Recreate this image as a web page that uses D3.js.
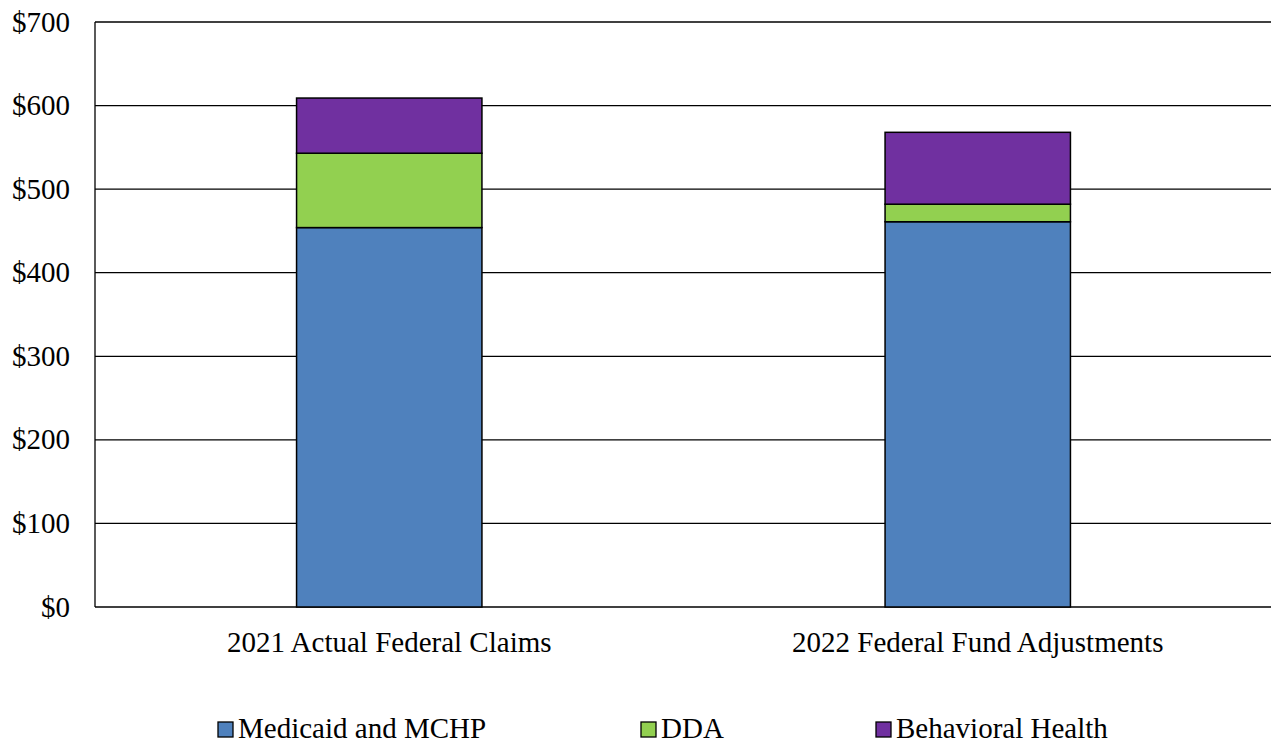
<!DOCTYPE html>
<html lang="en">
<head>
<meta charset="utf-8">
<title>Federal Claims</title>
<script src="https://d3js.org/d3.v7.min.js"></script>
<style>
  body { margin: 0; background: #fff; }
</style>
</head>
<body>
<svg width="1271" height="743"></svg>
<script>
// data (millions)
const categories = ["2021 Actual Federal Claims", "2022 Federal Fund Adjustments"];
const seriesNames = ["Medicaid and MCHP", "DDA", "Behavioral Health"];
const medicaid = [454, 461];
const dda = [89, 21];
const behavioral = [66, 86];
const yTicks = [0, 100, 200, 300, 400, 500, 600, 700];

const colors = ["#4F81BD", "#92D050", "#7030A0"];
const font = "'Liberation Serif', 'Times New Roman', serif";

const svg = d3.select("svg");
const plotLeft = 95, plotRight = 1272, plotTop = 22, plotBottom = 607;

const x = d3.scaleBand().domain(categories).range([plotLeft, plotRight]);
const y = d3.scaleLinear().domain([0, 700]).range([plotBottom, plotTop]);
const barW = x.bandwidth() * 0.315;

// gridlines
svg.append("g")
  .selectAll("line")
  .data(yTicks)
  .join("line")
  .attr("x1", plotLeft).attr("x2", plotRight)
  .attr("y1", d => y(d)).attr("y2", d => y(d))
  .attr("stroke", "#000").attr("stroke-width", 1.3);

// left axis line
svg.append("line")
  .attr("x1", plotLeft).attr("x2", plotLeft)
  .attr("y1", plotTop).attr("y2", plotBottom)
  .attr("stroke", "#000").attr("stroke-width", 1.3);

// y labels
svg.append("g")
  .selectAll("text")
  .data(yTicks)
  .join("text")
  .attr("x", 70)
  .attr("y", d => y(d))
  .attr("dy", "0.33em")
  .attr("text-anchor", "end")
  .style("font-family", font)
  .style("font-size", "29px")
  .text(d => "$" + d);

// stacked bars
const rows = categories.map((c, i) => ({
  cat: c,
  "Medicaid and MCHP": medicaid[i],
  "DDA": dda[i],
  "Behavioral Health": behavioral[i]
}));
const stack = d3.stack().keys(seriesNames)(rows);

svg.append("g")
  .selectAll("g")
  .data(stack)
  .join("g")
  .attr("fill", (d, i) => colors[i])
  .selectAll("rect")
  .data(d => d)
  .join("rect")
  .attr("x", d => x(d.data.cat) + x.bandwidth() / 2 - barW / 2)
  .attr("y", d => y(d[1]))
  .attr("width", barW)
  .attr("height", d => y(d[0]) - y(d[1]))
  .attr("stroke", "#000")
  .attr("stroke-width", 1.5);

// x labels
svg.append("g")
  .selectAll("text")
  .data(categories)
  .join("text")
  .attr("x", d => x(d) + x.bandwidth() / 2)
  .attr("y", 652)
  .attr("text-anchor", "middle")
  .style("font-family", font)
  .style("font-size", "29px")
  .text(d => d);

// legend
const legendX = [218, 641, 876];
const lg = svg.append("g")
  .selectAll("g")
  .data(seriesNames)
  .join("g")
  .attr("transform", (d, i) => "translate(" + legendX[i] + ",738)");
lg.append("rect")
  .attr("x", 0).attr("y", -16)
  .attr("width", 15).attr("height", 15)
  .attr("fill", (d, i) => colors[i])
  .attr("stroke", "#000").attr("stroke-width", 1.3);
lg.append("text")
  .attr("x", 20)
  .style("font-family", font)
  .style("font-size", "29px")
  .text(d => d);
</script>
</body>
</html>
